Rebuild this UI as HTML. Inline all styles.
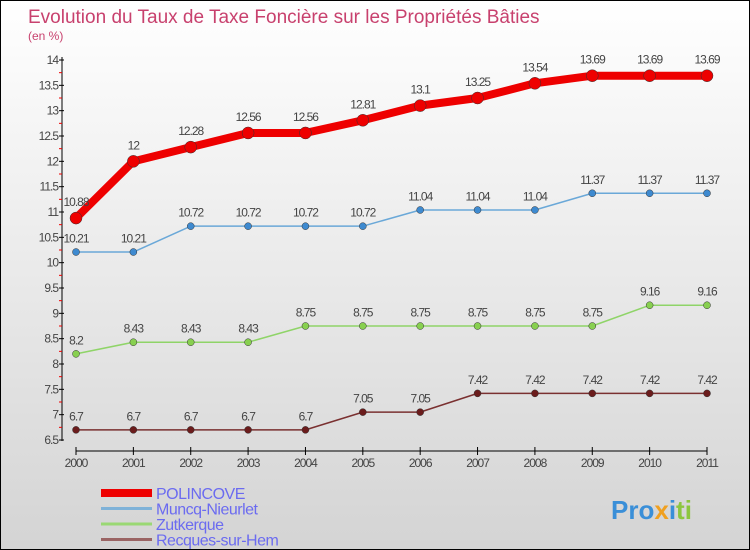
<!DOCTYPE html>
<html><head><meta charset="utf-8"><style>
body{margin:0;}
#c{width:748px;height:548px;border:1px solid #000;background:linear-gradient(#fff,#d4d4d4);position:relative;overflow:hidden;font-family:"Liberation Sans",sans-serif;}
svg{position:absolute;left:0;top:0}
</style></head><body>
<div id="c">
<svg id="s" width="750" height="550">
<text x="27" y="22" font-size="19" fill="#c8416e">Evolution du Taux de Taxe Foncière sur les Propriétés Bâties</text>
<text x="27" y="39" font-size="12" fill="#c8416e">(en %)</text>
<g id="axes"></g><g id="series"></g><g id="legend"></g>
<text x="610" y="518" font-size="26" font-weight="bold" fill="#3a8fd8">Pro<tspan fill="#f0a020">x</tspan><tspan fill="#3a8fd8">i</tspan><tspan fill="#8cc63f">ti</tspan></text>
</svg></div>
<script>
const years=[2000,2001,2002,2003,2004,2005,2006,2007,2008,2009,2010,2011];
const polincove=[10.88,12,12.28,12.56,12.56,12.81,13.1,13.25,13.54,13.69,13.69,13.69];
const munqc=[10.21,10.21,10.72,10.72,10.72,10.72,11.04,11.04,11.04,11.37,11.37,11.37];
const zutkerque=[8.2,8.43,8.43,8.43,8.75,8.75,8.75,8.75,8.75,8.75,9.16,9.16];
const recques=[6.7,6.7,6.7,6.7,6.7,7.05,7.05,7.42,7.42,7.42,7.42,7.42];
const yTicks=[6.5,7,7.5,8,8.5,9,9.5,10,10.5,11,11.5,12,12.5,13,13.5,14];
const seriesNames=["POLINCOVE","Muncq-Nieurlet","Zutkerque","Recques-sur-Hem"];
const NS="http://www.w3.org/2000/svg";
const X=i=>75+i*(706-75)/(years.length-1);
const Y=v=>439-(v-6.5)*(439-59)/(14-6.5);
function mk(t,a,p){const e=document.createElementNS(NS,t);for(const k in a)e.setAttribute(k,a[k]);p.appendChild(e);return e;}
const ax=document.getElementById('axes');
let e=mk('line',{x1:61,y1:56,x2:61,y2:440,stroke:'#000'},ax);


e=mk('line',{x1:75,y1:450,x2:706,y2:450,stroke:'#000'},ax);


yTicks.forEach(v=>{
 mk('line',{x1:58,y1:Y(v),x2:63,y2:Y(v),stroke:'#000'},ax);
 if(v<14)mk('line',{x1:58,y1:Y(v+0.25),x2:61,y2:Y(v+0.25),stroke:'#e00'},ax);
 const t=mk('text',{x:57,y:Y(v)+4,'font-size':12,'text-anchor':'end',fill:'#444','letter-spacing':'-1'},ax);
 t.textContent=v;
 
 
});
years.forEach((y,i)=>{
 mk('line',{x1:X(i),y1:446,x2:X(i),y2:454,stroke:'#000'},ax);
 const t=mk('text',{x:X(i),y:466,'font-size':12,'text-anchor':'middle',fill:'#444','letter-spacing':'-1'},ax);
 t.textContent=y;
 
 
});
const sg=document.getElementById('series');
function draw(vals,col,w,r,name,dotCol){
 const g=mk('g',{},sg);
 
 
 mk('polyline',{points:vals.map((v,i)=>X(i)+','+Y(v)).join(' '),fill:'none',stroke:col,'stroke-width':w,'stroke-linejoin':'round'},g);
 vals.forEach((v,i)=>{
  const c=mk('circle',{cx:X(i),cy:Y(v),r:r,fill:dotCol,stroke:'#333','stroke-width':0.5},g);
  
  
  const t=mk('text',{x:X(i),y:Y(v)-(r+6),'font-size':12,'text-anchor':'middle',fill:'#444','letter-spacing':'-1'},g);
  t.textContent=v;
  
  
 });
}
draw(recques,'#7a3030',1.5,3.5,'recques','#6b1c1c');
draw(zutkerque,'#8fd468',1.5,3.5,'zutkerque','#88d050');
draw(munqc,'#6aa8d8',1.5,3.5,'munqc','#3e8ad0');
draw(polincove,'#e00',8,6,'polincove','#e00');
const lg=document.getElementById('legend');
const lc=['#e00','#7fb2d8','#9ad874','#9a6464'],lw=[8,3,3,3];
seriesNames.forEach((n,i)=>{
 const y=492+i*15.5;
 const l=mk('line',{x1:100,y1:y,x2:151,y2:y,stroke:lc[i],'stroke-width':lw[i]},lg);
 
 
 const t=mk('text',{x:155,y:y+6,'font-size':16,fill:'#6b6bf0','letter-spacing':'-0.5'},lg);
 t.textContent=n;
 
 
});
</script>
</body></html>
